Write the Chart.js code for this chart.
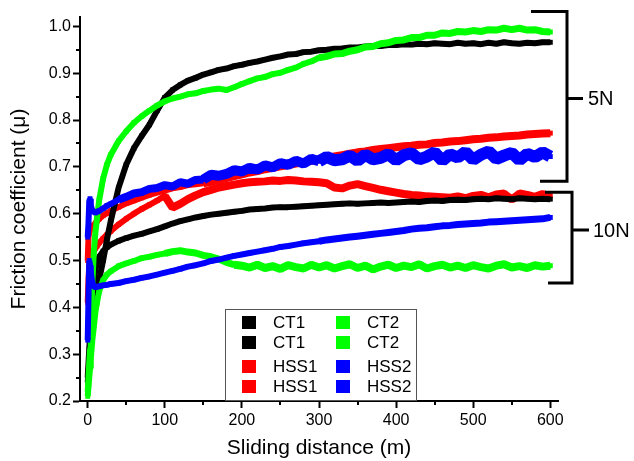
<!DOCTYPE html>
<html>
<head>
<meta charset="utf-8">
<script src="https://cdn.jsdelivr.net/npm/chart.js@4"></script>
<style>
  html, body { margin: 0; padding: 0; background: #fff; }
  canvas { display: block; }
</style>
</head>
<body>
<canvas id="c" width="634" height="461"></canvas>
<script>
// Sliding distance (m) at which friction coefficient was sampled
const distance = [0,1,2,3,4,5,6,8,10,12,
  15,20,25,30,40,50,60,70,80,90,
  100,110,120,130,140,150,160,170,180,190,
  200,210,220,230,240,250,260,270,280,290,
  300,310,320,330,340,350,360,370,380,390,
  400,410,420,430,440,450,460,470,480,490,
  500,510,520,530,540,550,560,570,580,590,
  600];

// Friction coefficient, 5 N load
const ct1_5N = [0.24,0.26,0.28,0.30,0.32,0.34,0.36,0.38,0.40,0.42,
  0.46,0.50,0.545,0.585,0.655,0.705,0.74,0.766,0.79,0.82,
  0.848,0.864,0.875,0.884,0.890,0.897,0.902,0.907,0.910,0.915,
  0.918,0.922,0.925,0.929,0.933,0.936,0.940,0.941,0.945,0.946,
  0.949,0.950,0.952,0.953,0.955,0.955,0.957,0.958,0.958,0.960,
  0.960,0.962,0.961,0.963,0.962,0.964,0.963,0.962,0.965,0.963,
  0.964,0.962,0.965,0.963,0.966,0.964,0.963,0.965,0.964,0.966,
  0.966];
const ct2_5N = [0.22,0.25,0.28,0.31,0.35,0.40,0.45,0.52,0.56,0.59,
  0.63,0.675,0.705,0.726,0.755,0.776,0.794,0.808,0.820,0.831,
  0.840,0.846,0.850,0.855,0.857,0.862,0.865,0.867,0.864,0.870,
  0.877,0.883,0.889,0.892,0.898,0.901,0.907,0.912,0.920,0.925,
  0.933,0.936,0.941,0.942,0.947,0.950,0.956,0.957,0.963,0.965,
  0.970,0.971,0.976,0.976,0.981,0.981,0.986,0.985,0.989,0.988,
  0.991,0.989,0.993,0.992,0.996,0.993,0.996,0.992,0.993,0.989,
  0.988];
const hss1_5N = [0.50,0.55,0.56,0.565,0.568,0.57,0.572,0.576,0.58,0.584,
  0.589,0.596,0.601,0.606,0.614,0.622,0.628,0.634,0.640,0.645,
  0.649,0.654,0.657,0.661,0.663,0.665,0.668,0.672,0.676,0.680,
  0.684,0.688,0.691,0.695,0.698,0.701,0.704,0.707,0.710,0.713,
  0.716,0.719,0.722,0.725,0.728,0.731,0.733,0.736,0.738,0.740,
  0.742,0.744,0.745,0.747,0.748,0.751,0.752,0.754,0.755,0.757,
  0.759,0.760,0.762,0.763,0.765,0.766,0.767,0.769,0.770,0.771,
  0.772];
const hss2_5N = [0.55,0.58,0.625,0.632,0.618,0.612,0.607,0.604,0.602,0.604,
  0.606,0.611,0.617,0.621,0.630,0.636,0.643,0.646,0.653,0.655,
  0.661,0.658,0.667,0.664,0.672,0.673,0.683,0.681,0.685,0.693,
  0.690,0.698,0.694,0.703,0.699,0.708,0.704,0.713,0.707,0.717,
  0.712,0.721,0.714,0.716,0.724,0.713,0.726,0.716,0.719,0.727,
  0.714,0.725,0.729,0.716,0.722,0.731,0.713,0.727,0.720,0.732,
  0.715,0.726,0.733,0.717,0.724,0.730,0.714,0.728,0.721,0.731,
  0.722];

// Friction coefficient, 10 N load
const ct1_10N = [0.25,0.28,0.31,0.34,0.37,0.40,0.43,0.46,0.48,0.495,
  0.508,0.52,0.528,0.534,0.542,0.548,0.553,0.557,0.562,0.567,
  0.573,0.579,0.584,0.588,0.592,0.595,0.598,0.600,0.602,0.604,
  0.606,0.609,0.610,0.611,0.613,0.614,0.614,0.615,0.616,0.617,
  0.618,0.619,0.620,0.621,0.622,0.621,0.622,0.623,0.624,0.623,
  0.624,0.625,0.626,0.625,0.627,0.628,0.627,0.629,0.630,0.629,
  0.631,0.632,0.631,0.633,0.632,0.631,0.633,0.632,0.631,0.632,
  0.631];
const ct2_10N = [0.21,0.23,0.25,0.27,0.29,0.31,0.33,0.36,0.39,0.41,
  0.435,0.458,0.470,0.477,0.488,0.494,0.499,0.505,0.508,0.512,
  0.515,0.519,0.521,0.518,0.516,0.511,0.508,0.503,0.496,0.491,
  0.489,0.485,0.491,0.484,0.488,0.482,0.490,0.486,0.483,0.491,
  0.485,0.490,0.483,0.488,0.492,0.484,0.489,0.481,0.487,0.491,
  0.484,0.489,0.486,0.492,0.483,0.488,0.491,0.485,0.489,0.484,
  0.490,0.486,0.483,0.489,0.492,0.485,0.488,0.484,0.490,0.487,
  0.489];
const hss1_10N = [0.41,0.46,0.49,0.50,0.505,0.51,0.514,0.52,0.526,0.531,
  0.538,0.547,0.555,0.563,0.577,0.589,0.600,0.610,0.619,0.628,
  0.638,0.613,0.621,0.631,0.639,0.646,0.651,0.656,0.659,0.662,
  0.665,0.667,0.668,0.669,0.671,0.670,0.672,0.671,0.669,0.668,
  0.667,0.665,0.656,0.654,0.660,0.663,0.659,0.655,0.651,0.648,
  0.645,0.642,0.640,0.639,0.637,0.636,0.635,0.634,0.637,0.633,
  0.638,0.640,0.635,0.641,0.643,0.630,0.643,0.640,0.636,0.642,
  0.638];
const hss2_10N = [0.33,0.42,0.50,0.49,0.475,0.462,0.452,0.445,0.443,0.444,
  0.445,0.447,0.448,0.450,0.452,0.456,0.459,0.463,0.466,0.470,
  0.474,0.478,0.482,0.487,0.490,0.494,0.499,0.502,0.506,0.510,
  0.513,0.516,0.519,0.522,0.525,0.529,0.531,0.534,0.537,0.539,
  0.541,0.544,0.546,0.548,0.550,0.552,0.554,0.556,0.558,0.560,
  0.562,0.564,0.567,0.569,0.570,0.572,0.574,0.575,0.577,0.578,
  0.579,0.580,0.582,0.583,0.584,0.585,0.586,0.587,0.588,0.589,
  0.592];

// Axis ticks
const xTicks = [0, 100, 200, 300, 400, 500, 600];
const xMinorTicks = [50, 150, 250, 350, 450, 550];
const yTicks = [0.2, 0.3, 0.4, 0.5, 0.6, 0.7, 0.8, 0.9, 1.0];
const yMinorTicks = [0.25, 0.35, 0.45, 0.55, 0.65, 0.75, 0.85, 0.95];

// Legend entries (two columns, read top to bottom)
const legendLabels = ['CT1', 'CT1', 'HSS1', 'HSS1', 'CT2', 'CT2', 'HSS2', 'HSS2'];
const legendColors = ['#000000', '#000000', '#ff0000', '#ff0000', '#00ff00', '#00ff00', '#0000ff', '#0000ff'];

// Load groups marked by brackets on the right (friction coefficient span)
const loadGroups = [
  { label: '5N',  top: 1.032, bottom: 0.669, mid: 0.846 },
  { label: '10N', top: 0.646, bottom: 0.452, mid: 0.565 }
];

const FONT = '"Liberation Sans", Arial, Helvetica, sans-serif';

function pts(values) {
  return distance.map((d, i) => ({ x: d, y: values[i] }));
}

// width: constant number, or [[fromDistance, width], ...] growing along the trace
function series(label, values, color, order, width) {
  const ds = {
    label: label,
    data: pts(values),
    showLine: true,
    borderColor: color,
    backgroundColor: color,
    borderWidth: Array.isArray(width) ? width[0][1] : width,
    borderJoinStyle: 'bevel',
    pointStyle: 'rect',
    pointRadius: 3.5,
    pointBorderWidth: 0,
    pointBackgroundColor: color,
    order: order
  };
  if (Array.isArray(width)) {
    ds.segment = {
      borderWidth: ctx => {
        let w = width[0][1];
        width.forEach(([from, bw]) => { if (ctx.p0.parsed.x >= from) w = bw; });
        return w;
      }
    };
  }
  return ds;
}

const decorations = {
  id: 'decorations',
  afterDraw(chart) {
    const { ctx, chartArea, scales } = chart;
    const x = scales.x, y = scales.y;
    ctx.save();

    // minor ticks
    ctx.strokeStyle = '#000';
    ctx.lineWidth = 2;
    ctx.beginPath();
    xMinorTicks.forEach(v => {
      const px = Math.round(x.getPixelForValue(v));
      ctx.moveTo(px, chartArea.bottom);
      ctx.lineTo(px, chartArea.bottom + 4);
    });
    yMinorTicks.forEach(v => {
      const py = Math.round(y.getPixelForValue(v));
      ctx.moveTo(chartArea.left, py);
      ctx.lineTo(chartArea.left - 4, py);
    });
    ctx.stroke();

    // load brackets
    const R = chartArea.right;
    const shapes = [
      { topL: -27, botL: -18, stem: 9, tick: 25, text: 30 },
      { topL: -13, botL: -10, stem: 14, tick: 31, text: 35 }
    ];
    ctx.lineWidth = 3;
    ctx.lineCap = 'butt';
    ctx.lineJoin = 'miter';
    ctx.font = '20px ' + FONT;
    ctx.fillStyle = '#000';
    ctx.textBaseline = 'middle';
    ctx.textAlign = 'left';
    loadGroups.forEach((g, i) => {
      const s = shapes[i];
      const yt = y.getPixelForValue(g.top);
      const yb = y.getPixelForValue(g.bottom);
      const ym = y.getPixelForValue(g.mid);
      ctx.beginPath();
      ctx.moveTo(R + s.topL, yt);
      ctx.lineTo(R + s.stem, yt);
      ctx.lineTo(R + s.stem, yb);
      ctx.lineTo(R + s.botL, yb);
      ctx.moveTo(R + s.stem, ym);
      ctx.lineTo(R + s.tick, ym);
      ctx.stroke();
      ctx.fillText(g.label, R + s.text, ym + 1);
    });

    // legend box
    const box = { left: 225.5, top: 309.5, w: 191, h: 91 };
    ctx.lineWidth = 1;
    ctx.strokeStyle = '#555';
    ctx.strokeRect(box.left, box.top, box.w, box.h);
    const rows = [322, 342, 366, 386];
    const cols = [{ sq: 249, tx: 273 }, { sq: 343, tx: 367 }];
    ctx.font = '17px ' + FONT;
    legendLabels.forEach((lab, i) => {
      const c = cols[Math.floor(i / 4)];
      const r = rows[i % 4];
      ctx.fillStyle = legendColors[i];
      ctx.fillRect(c.sq - 7, r - 6, 14, 13);
      ctx.fillStyle = '#000';
      ctx.fillText(lab, c.tx, r + 1);
    });

    ctx.restore();
  }
};

new Chart(document.getElementById('c'), {
  type: 'scatter',
  data: {
    datasets: [
      series('CT1',  ct1_5N,  '#000000', 2, 6),
      series('CT1',  ct1_10N, '#000000', 2, 6),
      series('HSS1', hss1_5N, '#ff0000', 3, [[0, 6], [150, 8]]),
      series('HSS1', hss1_10N,'#ff0000', 3, [[0, 6], [100, 8]]),
      series('CT2',  ct2_5N,  '#00ff00', 1, [[0, 6], [300, 7]]),
      series('CT2',  ct2_10N, '#00ff00', 1, [[0, 6], [100, 7], [190, 8]]),
      series('HSS2', hss2_5N, '#0000ff', 0, [[0, 6], [40, 8], [150, 10], [300, 12]]),
      series('HSS2', hss2_10N,'#0000ff', 0, [[0, 6], [300, 7]])
    ]
  },
  options: {
    responsive: false,
    animation: false,
    devicePixelRatio: 1,
    layout: { padding: { top: 17, right: 76, left: 0, bottom: 0 } },
    plugins: { legend: { display: false }, tooltip: { enabled: false } },
    scales: {
      x: {
        type: 'linear',
        min: -10,
        max: 610,
        afterBuildTicks: s => { s.ticks = xTicks.map(v => ({ value: v })); },
        afterFit: s => { s.height = 60; },
        ticks: { font: { family: FONT, size: 16 }, color: '#000', padding: 3, maxRotation: 0, callback: v => String(v) },
        grid: { display: true, drawOnChartArea: false, drawTicks: true, tickLength: 7, tickWidth: 2, tickColor: '#000' },
        border: { display: true, color: '#000', width: 2 },
        title: { display: true, text: 'Sliding distance (m)', font: { family: FONT, size: 21 }, color: '#000', padding: 0 }
      },
      y: {
        type: 'linear',
        min: 0.2,
        max: 1.02,
        afterBuildTicks: s => { s.ticks = yTicks.map(v => ({ value: v })); },
        afterFit: s => { s.width = 80; },
        ticks: { font: { family: FONT, size: 16 }, color: '#000', padding: 2, callback: v => v.toFixed(1) },
        grid: { display: true, drawOnChartArea: false, drawTicks: true, tickLength: 7, tickWidth: 2, tickColor: '#000' },
        border: { display: true, color: '#000', width: 2 },
        title: { display: true, text: 'Friction coefficient (\u03bc)', font: { family: FONT, size: 21 }, color: '#000', padding: { top: 7, bottom: 0 } }
      }
    }
  },
  plugins: [decorations]
});
</script>
</body>
</html>
